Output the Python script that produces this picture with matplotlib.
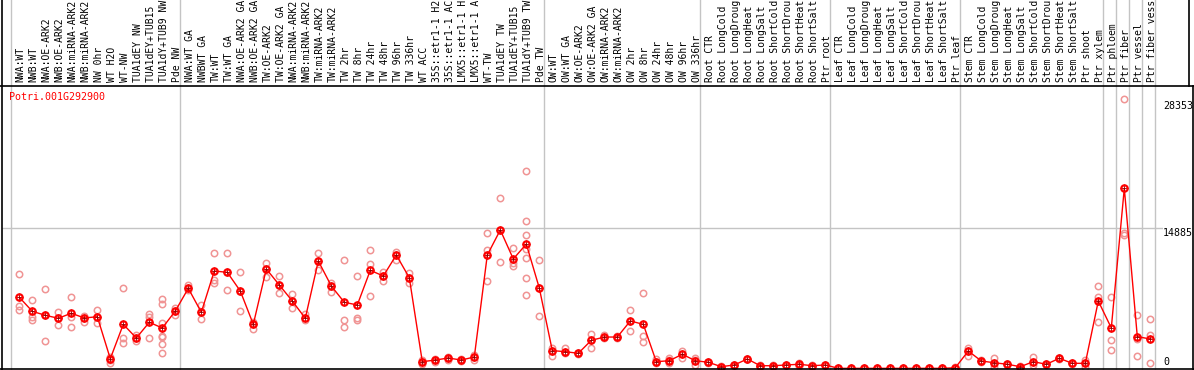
import numpy as np
import matplotlib
matplotlib.use('Agg')
import matplotlib.pyplot as plt
from matplotlib.lines import Line2D

# Образцы (подписи обрезаны до 14 символов, как на исходнике)
samples = [
    "NWA:WT", "NWB:WT", "NWA:OE-ARK2", "NWB:OE-ARK2", "NWA:miRNA-ARK2", "NWB:miRNA-ARK2",
    "NW 0hr", "WT H2O", "WT-NW", "TUA1dEY NW", "TUA1dEY+TUB15 NW", "TUA1dY+TUB9 NW", "Pde NW",
    "NWA:WT GA", "NWBWT GA", "TW:WT", "TW:WT GA", "NWA:OE-ARK2 GA", "NWB:OE-ARK2 GA",
    "TW:OE-ARK2", "TW:OE-ARK2 GA", "NWA:miRNA-ARK2", "NWB:miRNA-ARK2", "TW:miRNA-ARK2",
    "TW:miRNA-ARK2", "TW 2hr", "TW 8hr", "TW 24hr", "TW 48hr", "TW 96hr", "TW 336hr",
    "WT ACC", "35S::etr1-1 H2O", "35S::etr1-1 ACC", "LMX5::etr1-1 H2O", "LMX5::etr1-1 ACC",
    "WT-TW", "TUA1dEY TW", "TUA1dEY+TUB15 TW", "TUA1dY+TUB9 TW", "Pde TW",
    "OW:WT", "OW:WT GA", "OW:OE-ARK2", "OW:OE-ARK2 GA", "OW:miRNA-ARK2", "OW:miRNA-ARK2",
    "OW 2hr", "OW 8hr", "OW 24hr", "OW 48hr", "OW 96hr", "OW 336hr",
    "Root CTR", "Root LongCold", "Root LongDrought", "Root LongHeat", "Root LongSalt",
    "Root ShortCold", "Root ShortDrought", "Root ShortHeat", "Root ShortSalt", "Ptr root",
    "Leaf CTR", "Leaf LongCold", "Leaf LongDrought", "Leaf LongHeat", "Leaf LongSalt",
    "Leaf ShortCold", "Leaf ShortDrought", "Leaf ShortHeat", "Leaf ShortSalt", "Ptr leaf",
    "Stem CTR", "Stem LongCold", "Stem LongDrought", "Stem LongHeat", "Stem LongSalt",
    "Stem ShortCold", "Stem ShortDrought", "Stem ShortHeat", "Stem ShortSalt", "Ptr shoot",
    "Ptr xylem", "Ptr phloem", "Ptr fiber", "Ptr vessel", "Ptr fiber vessel",
]

# Среднее значение экспрессии
means = [
    7720, 6260, 5850, 5540, 6060, 5570, 5700, 1340, 4910, 3490, 5120, 4530, 6290,
    8650, 6160, 10450, 10310, 8370, 4910, 10660, 9000, 7330, 5540, 11490, 8890, 7200,
    6920, 10520, 9930, 12110, 9750, 1030, 1200, 1410, 1200, 1520, 12110, 14710, 11700,
    13250, 8680, 2180, 2070, 1900, 3250, 3590, 3590, 5260, 4910, 1030, 1130, 1800, 1130,
    970, 510, 690, 1310, 610, 610, 690, 760, 610, 690,
    340, 340, 340, 340, 340, 340, 340, 340, 340, 400,
    2140, 1100, 920, 760, 510, 1030, 760, 1380, 860, 860,
    7330, 4530, 19040, 3630, 3390,
]

# Повторности
replicates = [
    [10100, 6810, 6400], [7440, 5710, 5360], [8550, 5850, 3180], [6160, 5540, 4880],
    [7710, 5640, 4670], [5810, 5570, 5120], [6400, 5710, 5080], [1550, 1210, 860],
    [8650, 3460, 2940], [3800, 3490, 3210], [5980, 5710, 3460],
    [7510, 6990, 5010, 3730, 3630, 2830, 1900], [6570, 6290, 5880],
    [9000, 8650, 8480], [6920, 6160, 5500], [12320, 9510, 9170], [12320, 10310, 8440],
    [10310, 8370, 6290], [5190, 4910, 4460], [11250, 10660, 9860], [9930, 9000, 8130],
    [8060, 7330, 6570], [5980, 5540, 5360], [12290, 11490, 10550], [9240, 8890, 8300],
    [11590, 5360, 4670], [9930, 5600, 5360], [12630, 11180, 7850], [10380, 9930, 9410],
    [12460, 12110, 11590], [10210, 9760, 9240], [1210, 1030, 790], [1340, 1210, 1030],
    [1550, 1410, 1210], [1310, 1210, 1100], [1720, 1520, 1210], [14360, 12630, 9410],
    [18000, 14710, 11350], [12800, 11250, 10970],
    [20840, 15640, 14190, 12700, 11830, 9690, 7960], [11590, 8680, 5780],
    [2420, 2170, 1660], [2420, 2070, 1900], [1950, 1900, 1850], [3870, 3250, 2490],
    [3800, 3590, 3460], [3700, 3590, 3460], [6400, 5260, 4220], [8200, 3700, 3040],
    [1270, 1030, 860], [1450, 1170, 860], [2140, 1790, 1380], [1380, 1170, 690],
    [1000, 960, 930], [540, 510, 480], [720, 690, 660], [1350, 1310, 1270],
    [640, 620, 590], [640, 620, 590], [710, 690, 660], [930, 720, 600],
    [640, 620, 590], [710, 690, 660],
    [360, 340, 320], [360, 340, 320], [360, 340, 320], [360, 340, 320], [360, 340, 320],
    [360, 340, 320], [360, 340, 320], [360, 340, 320], [360, 340, 320], [430, 410, 390],
    [2490, 2140, 1660], [1250, 1100, 950], [1380, 930, 510], [800, 760, 720],
    [540, 510, 480], [1550, 1030, 690], [800, 760, 720], [1450, 1380, 1310],
    [900, 860, 820], [1170, 860, 440],
    [8930, 7710, 5120], [7780, 3280, 2240], [28353, 14360, 14190], [5880, 3390, 1620],
    [5460, 3800, 860],
]

# Последний индекс каждой группы образцов (линии сетки)
group_ends = [-1, 12, 40, 52, 62, 72, 83, 84, 85, 86, 87]

gene = "Potri.001G292900"
ytick_labels = ["28353", "14885", "0"]

W, H = 1194, 370
mono = "DejaVu Sans Mono"
grid_c = "#c4c4c4"


def fx(px):
    return px / W


def fy(py):
    return 1 - py / H


x0, step = 19.3, 13.0  # пиксельная позиция первого образца и шаг


def xi(px):
    return (px - x0) / step


fig = plt.figure(figsize=(W / 100, H / 100), dpi=100)

# Верхняя полоса с подписями
axl = fig.add_axes([fx(2), fy(85), fx(1188) - fx(2), fy(0) - fy(85)])
axl.set_xlim(xi(2), xi(1188))
axl.set_ylim(85, 0)
axl.axis('off')
for g in group_ends:
    axl.axvline(g + 0.38, color=grid_c, lw=1)
for i, name in enumerate(samples):
    axl.text(i + 0.1, 82.5, name[:14], rotation=90, ha='center', va='bottom',
             fontsize=7, family=mono, color='black', clip_on=True)

# Область графика
ax = fig.add_axes([fx(2), fy(370), fx(1163) - fx(2), fy(85) - fy(370)])
ax.set_xlim(xi(2), xi(1163))
ax.set_ylim(166, 29770)
ax.axis('off')
for g in group_ends:
    ax.axvline(g + 0.38, color=grid_c, lw=1, zorder=1)
ax.axhline(14885, color=grid_c, lw=1, zorder=1)

xs = np.arange(len(samples))
for i, reps in enumerate(replicates):
    ax.plot([i] * len(reps), reps, 'o', ms=4.6, mfc='none', mec='#f09494',
            mew=1.1, zorder=2, clip_on=True)
ax.plot(xs, means, '-', color='red', lw=1, zorder=3)
ax.plot(xs, means, 'o', ms=4.6, mfc='none', mec='red', mew=1.6, zorder=4)
ax.plot(xs, means, '+', ms=6.0, color='#900000', mew=0.6, zorder=3)

fig.text(fx(9), fy(92), gene, color='red', fontsize=7.2, family=mono,
         ha='left', va='top')

# Подписи оси Y справа
fig.text(fx(1163), fy(101), ytick_labels[0], fontsize=7.2, family=mono, ha='left', va='top')
fig.text(fx(1163), fy(228), ytick_labels[1], fontsize=7.2, family=mono, ha='left', va='top')
fig.text(fx(1163), fy(367), ytick_labels[2], fontsize=7.2, family=mono, ha='left', va='bottom')

# Чёрные рамки
for (xa, ya, xb, yb) in [(0, 85.5, W, 85.5), (1.5, 0, 1.5, H), (0, 369, W, 369),
                         (1188.5, 0, 1188.5, 85.5), (1192.5, 85.5, 1192.5, H)]:
    fig.add_artist(Line2D([fx(xa), fx(xb)], [fy(ya), fy(yb)], color='black', lw=1.2,
                          transform=fig.transFigure))

fig.savefig('out.png', dpi=100)
plt.close(fig)
